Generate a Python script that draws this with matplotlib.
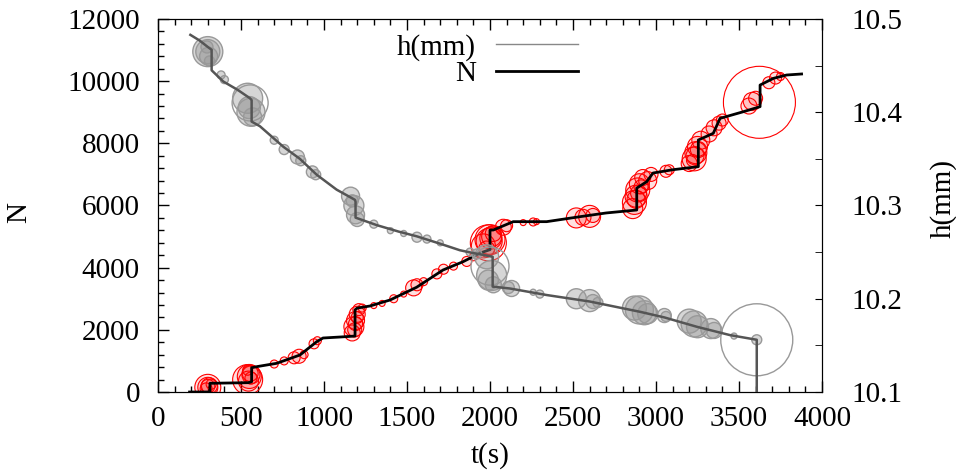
import numpy as np
import matplotlib
matplotlib.use("Agg")
import matplotlib.pyplot as plt
from matplotlib.lines import Line2D
from matplotlib.ticker import MultipleLocator

plt.rcParams['font.family'] = ['Liberation Serif', 'DejaVu Serif']
plt.rcParams['font.size'] = 21

# h(mm) curve (right axis)
h_t = [195, 250, 300, 323, 323, 393, 480, 554, 564, 564, 614, 755, 855, 956, 1076, 1157,
       1187, 1190, 1190, 1317, 1450, 1558, 1700, 1819, 1899, 1960, 2016, 2016, 2120, 2341,
       2602, 2904, 3050, 3245, 3446, 3607, 3607]
h_v = [10.483, 10.477, 10.470, 10.467, 10.445, 10.433, 10.424, 10.415, 10.413, 10.390,
       10.385, 10.363, 10.350, 10.333, 10.317, 10.309, 10.306, 10.304, 10.287, 10.279,
       10.272, 10.267, 10.259, 10.252, 10.249, 10.247, 10.245, 10.213, 10.211, 10.204,
       10.197, 10.186, 10.180, 10.170, 10.161, 10.156, 10.09]

# N curve (left axis)
N_t = [190, 313, 313, 544, 564, 564, 600, 715, 855, 956, 994, 1100, 1187, 1187, 1200, 1277,
       1398, 1558, 1717, 1837, 1940, 2000, 2000, 2020, 2140, 2341, 2542, 2700, 2884, 2884,
       2944, 2982, 3100, 3255, 3255, 3345, 3386, 3526, 3627, 3627, 3707, 3787, 3877]
N_v = [0, 0, 280, 300, 330, 780, 820, 923, 1190, 1618, 1737, 1770, 1800, 2640, 2700, 2767,
       2960, 3370, 3925, 4190, 4470, 4580, 5210, 5212, 5480, 5480, 5640, 5760, 5855, 6560,
       6766, 7045, 7150, 7250, 8107, 8322, 8804, 9017, 9180, 9875, 10090, 10198, 10231]

# event circles on N (t, N, radius in px)
Nc_t = [300, 300, 290, 310, 320, 540, 550, 545, 555, 560, 540, 700, 760, 820, 850, 880,
        940, 960, 1170, 1180, 1190, 1200, 1185, 1210, 1230, 1300, 1350, 1420, 1480, 1540,
        1560, 1600, 1680, 1720, 1780, 1860, 1900, 1960, 1990, 2000, 2010, 1980, 2020, 2080,
        2100, 2200, 2260, 2280, 2520, 2560, 2600, 2620, 2860, 2870, 2880, 2890, 2900, 2920,
        2950, 2970, 3060, 3080, 3200, 3230, 3240, 3250, 3270, 3220, 3320, 3350, 3380, 3400,
        3560, 3580, 3600, 3623, 3680, 3720, 3750,
        1190, 1200, 2880, 2895, 2910, 3235, 3255, 1995, 2005, 560, 300]
Nc_v = [150, 150, 100, 200, 250, 400, 500, 350, 600, 450, 700, 900, 1000, 1100, 1150, 1200,
        1550, 1650, 1900, 2100, 2300, 2500, 2000, 2650, 2700, 2780, 2850, 3000, 3150, 3350,
        3450, 3550, 3800, 3950, 4050, 4200, 4350, 4700, 4800, 4900, 5000, 4600, 5100, 5300,
        5350, 5450, 5470, 5480, 5600, 5620, 5650, 5680, 5900, 6100, 6300, 6500, 6700, 6900,
        6800, 7000, 7100, 7150, 7350, 7500, 7700, 7900, 8100, 7450, 8300, 8500, 8650, 8750,
        9200, 9350, 9450, 9320, 9950, 10100, 10150,
        2200, 2400, 6200, 6400, 6600, 7600, 7800, 4850, 4950, 550, 180]
Nc_r = [13, 10, 6, 8, 5, 15, 12, 10, 8, 6, 5, 4, 4, 6, 7, 4,
        5, 4, 8, 10, 9, 8, 7, 6, 4, 3, 3, 4, 3, 8,
        6, 4, 5, 5, 4, 5, 4, 12, 18, 15, 10, 8, 8, 8,
        6, 3, 4, 3, 10, 8, 11, 7, 10, 12, 11, 12, 10, 8,
        9, 7, 6, 5, 8, 12, 11, 10, 9, 6, 8, 8, 7, 6,
        8, 9, 7, 36, 6, 6, 4,
        7, 6, 9, 8, 7, 9, 8, 13, 11, 9, 7]

# event circles on h (t, h, radius in px)
hc_t = [300, 300, 305, 295, 310, 380, 400, 540, 555, 560, 550, 570, 700, 760, 840, 860,
        930, 950, 1160, 1180, 1190, 1200, 1170, 1300, 1400, 1480, 1560, 1620, 1700, 1880,
        1920, 1980, 2000, 2010, 1990, 2020, 2130, 2110, 2260, 2300, 2520, 2600, 2620, 2650,
        2870, 2900, 2930, 2950, 3050, 3060, 3200, 3230, 3250, 3330, 3350, 3470, 3607, 3607]
hc_v = [10.465, 10.465, 10.46, 10.47, 10.455, 10.44, 10.435, 10.415, 10.41, 10.40, 10.405,
        10.395, 10.37, 10.36, 10.352, 10.348, 10.336, 10.333, 10.31, 10.30, 10.29, 10.285,
        10.305, 10.28, 10.273, 10.27, 10.266, 10.264, 10.26, 10.25, 10.248, 10.245, 10.235,
        10.225, 10.22, 10.215, 10.211, 10.212, 10.207, 10.205, 10.2, 10.198, 10.197, 10.196,
        10.19, 10.188, 10.185, 10.184, 10.182, 10.181, 10.176, 10.173, 10.170, 10.168,
        10.166, 10.16, 10.156, 10.156]
hc_r = [15, 12, 9, 6, 5, 4, 4, 15, 18, 14, 11, 9, 4, 5, 7, 5,
        6, 5, 9, 10, 9, 7, 6, 4, 3, 3, 5, 4, 3, 4,
        5, 12, 19, 15, 10, 8, 8, 6, 3, 4, 10, 11, 7, 5,
        12, 14, 12, 10, 7, 5, 12, 13, 11, 10, 8, 3, 5, 36]

dpi = 100
fig = plt.figure(figsize=(9.56, 4.73), dpi=dpi)
ax = fig.add_axes([158 / 956, 1 - 392 / 473, 664 / 956, 373 / 473])
ax2 = ax.twinx()


def sizes(r):
    return (2 * np.array(r) * 72.0 / dpi) ** 2


def faces(r, rgb, a):
    return [rgb + (a if ri < 16 else 0.0,) for ri in r]


ax.scatter(Nc_t, Nc_v, s=sizes(Nc_r), facecolors=faces(Nc_r, (1, 0, 0), 0.12),
           edgecolors='red', linewidths=0.8, zorder=2)
ax.plot(N_t, N_v, color='black', lw=2.0, zorder=3)

ax2.scatter(hc_t, hc_v, s=sizes(hc_r), facecolors=faces(hc_r, (0.6, 0.6, 0.6), 0.4),
            edgecolors='#999999', linewidths=1.0, zorder=2)
ax2.plot(h_t, h_v, color='#555555', lw=1.8, zorder=3)

ax.set_xlim(0, 4000)
ax.set_ylim(0, 12000)
ax2.set_ylim(10.1, 10.5)

ax.xaxis.set_major_locator(MultipleLocator(500))
ax.xaxis.set_minor_locator(MultipleLocator(100))
ax.yaxis.set_major_locator(MultipleLocator(2000))
ax.yaxis.set_minor_locator(MultipleLocator(400))
ax2.yaxis.set_major_locator(MultipleLocator(0.1))
ax2.yaxis.set_minor_locator(MultipleLocator(0.05))
ax2.yaxis.set_major_formatter(matplotlib.ticker.FormatStrFormatter('%.1f'))

ax.tick_params(axis='x', which='both', direction='in', top=True, pad=10)
ax.tick_params(axis='y', which='both', direction='in', right=False, pad=13)
ax.tick_params(which='major', length=8, width=1)
ax.tick_params(which='minor', length=4, width=1)
ax2.tick_params(axis='y', which='both', direction='in', length=5, pad=21)

ax.set_xlabel('t(s)')
ax.xaxis.set_label_coords(0.5, -0.135)
ax.set_ylabel('N')
ax.yaxis.set_label_coords(-0.19, 0.48)
ax2.set_ylabel('h(mm)', rotation=90)
ax2.yaxis.set_label_coords(1.163, 0.52)

handles = [Line2D([], [], color='#888888', lw=1.0), Line2D([], [], color='black', lw=2.0)]
ax2.legend(handles, ['h(mm)', 'N'], loc='upper right', bbox_to_anchor=(578 / 956, 1 - 34 / 473),
           bbox_transform=fig.transFigure, frameon=False, markerfirst=False,
           handlelength=2.8, handletextpad=0.7, labelspacing=0.0, borderpad=0, borderaxespad=0)

fig.savefig('out.png', dpi=dpi)
